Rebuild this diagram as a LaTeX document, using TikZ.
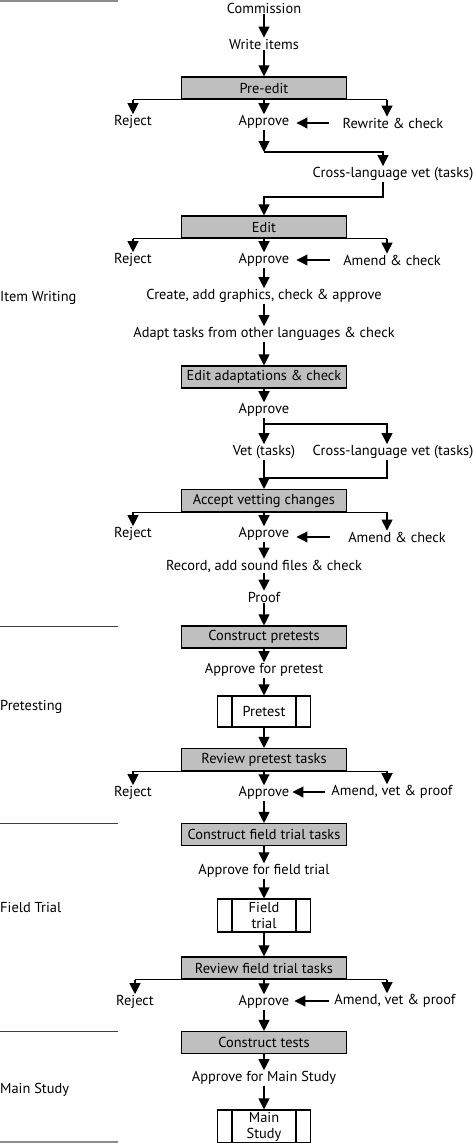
\documentclass[tikz,border=0pt]{standalone}
\usepackage{fontspec}
\setmainfont{PT Sans}
\usetikzlibrary{arrows.meta}
\begin{document}
\begin{tikzpicture}[x=1pt,y=-1pt, font=\fontsize{14.4}{16}\selectfont,
  lbl/.style={inner sep=1pt},
  gbox/.style={draw, line width=1.1pt, fill=black!25, minimum width=165pt, minimum height=22pt, inner sep=0pt},
  pbox/.style={draw, line width=1.1pt, fill=white, minimum width=93pt, minimum height=31pt, inner sep=0pt, align=center},
  arr/.style={line width=1.1pt, -{Triangle[width=11pt,length=11pt]}},
  ln/.style={line width=1.1pt},
  sec/.style={anchor=west, inner sep=0pt},
  secline/.style={black!75, line width=1pt},
  endline/.style={black!45, line width=2.2pt}
]
\useasboundingbox (0,0) rectangle (474,1143);
% section lines and labels
\draw[endline] (0,0.8) -- (118,0.8);
\draw[secline] (0,626) -- (118,626);
\draw[secline] (0,823) -- (118,823);
\draw[secline] (0,1031) -- (118,1031);
\draw[endline] (0,1142) -- (118,1142);
\node[sec] (s1) at (0,298) {Item Writing};
\node[sec] (s2) at (0,707) {Pretesting};
\node[sec] (s3) at (0,907) {Field Trial};
\node[sec] (s4) at (0,1090) {Main Study};
% columns
\coordinate (R) at (387,0);
\coordinate (Rc) at (383,0);
% nodes
\node[lbl] (comm) at (264,8) {Commission};
\node[lbl] (write) at (264,44) {Write items};
\node[gbox] (preedit) at (264,88) {Pre-edit};
\node[lbl] (rej1) at (133,122) {Reject};
\node[lbl] (app1) at (264,122) {Approve};
\node[lbl] (rew1) at (393,123) {Rewrite \& check};
\node[lbl] (clv1) at (393,174) {Cross-language vet (tasks)};
\node[gbox] (edit) at (264,227) {Edit};
\node[lbl] (rej2) at (133,260) {Reject};
\node[lbl] (app2) at (264,260) {Approve};
\node[lbl] (amd2) at (392,260) {Amend \& check};
\node[lbl] (create) at (264,296) {Create, add graphics, check \& approve};
\node[lbl] (adapt) at (264,334) {Adapt tasks from other languages \& check};
\node[gbox] (editad) at (264,377) {Edit adaptations \& check};
\node[lbl] (app3) at (264,410) {Approve};
\node[lbl] (vet) at (264,452) {Vet (tasks)};
\node[lbl] (clv2) at (393,452) {Cross-language vet (tasks)};
\node[gbox] (accept) at (264,500.5) {Accept vetting changes};
\node[lbl] (rej3) at (133,534) {Reject};
\node[lbl] (app4) at (264,534) {Approve};
\node[lbl] (amd3) at (397,537) {Amend \& check};
\node[lbl] (record) at (264,566) {Record, add sound files \& check};
\node[lbl] (proof) at (264,597) {Proof};
\node[gbox] (conpre) at (264,637) {Construct pretests};
\node[lbl] (appre) at (264,670) {Approve for pretest};
\node[pbox] (pretest) at (264,711.5) {Pretest};
\node[gbox] (revpre) at (264,759.5) {Review pretest tasks};
\node[lbl] (rej4) at (133,793) {Reject};
\node[lbl] (app5) at (264,793) {Approve};
\node[lbl] (amd4) at (392,792) {Amend, vet \& proof};
\node[gbox] (confield) at (264,834.5) {Construct field trial tasks};
\node[lbl] (appfield) at (264,871) {Approve for field trial};
\node[pbox, minimum height=33pt] (field) at (264,915.5) {Field\\trial};
\node[gbox] (revfield) at (264,968) {Review field trial tasks};
\node[lbl] (rej5) at (135,1002) {Reject};
\node[lbl] (app6) at (264,1002) {Approve};
\node[lbl] (amd5) at (395,1001) {Amend, vet \& proof};
\node[gbox] (contests) at (264,1042.5) {Construct tests};
\node[lbl] (appmain) at (264,1078) {Approve for Main Study};
\node[pbox, minimum height=33pt] (mainst) at (264,1126.5) {Main\\Study};
% inner lines of process boxes
\foreach \b in {pretest,field,mainst}{
  \draw[ln] ([xshift=-32pt]\b.north) -- ([xshift=-32pt]\b.south);
  \draw[ln] ([xshift=32pt]\b.north) -- ([xshift=32pt]\b.south);
}
% main chain
\draw[arr] (comm) -- (write);
\draw[arr] (write) -- (preedit);
% pre-edit branches
\draw[ln] (rej1.north |- preedit.south) -- (R |- preedit.south);
\draw[arr] (rej1.north |- preedit.south) -- (rej1.north);
\draw[arr] (preedit.south) -- (app1.north);
\draw[arr] (R |- preedit.south) -- (R |- rew1.north);
\draw[arr, shorten <=12pt, shorten >=6pt] (rew1.west) -- (rew1.west -| app1.east);
% to cross-language vet and back
\coordinate (j1) at (264,152);
\draw[arr] (app1) -- (j1);
\draw[arr] (j1) -- (j1 -| Rc) -- (Rc |- clv1.north);
\coordinate (j2) at (264,197);
\draw[arr] (Rc |- clv1.south) -- (Rc |- j2) -- (j2) -- (edit.north);
% edit branches
\draw[ln] (rej2.north |- edit.south) -- (R |- edit.south);
\draw[arr] (rej2.north |- edit.south) -- (rej2.north);
\draw[arr] (edit.south) -- (app2.north);
\draw[arr] (R |- edit.south) -- (R |- amd2.north);
\draw[arr, shorten <=12pt, shorten >=6pt] (amd2.west) -- (amd2.west -| app2.east);
\draw[arr] (app2) -- (create);
\draw[arr] (create) -- (adapt);
\draw[arr] (adapt) -- (editad);
\draw[arr] (editad) -- (app3);
% vetting
\draw[arr] (app3) -- (vet);
\coordinate (j3) at (264,424);
\draw[arr] (j3) -- (j3 -| R) -- (R |- clv2.north);
\coordinate (j4) at (264,478);
\draw[ln] (R |- clv2.south) -- (R |- j4) -- (j4);
\draw[arr] (vet) -- (accept);
% accept branches
\draw[ln] (rej3.north |- accept.south) -- (R |- accept.south);
\draw[arr] (rej3.north |- accept.south) -- (rej3.north);
\draw[arr] (accept.south) -- (app4.north);
\draw[arr] (R |- accept.south) -- (R |- amd3.north);
\draw[arr, shorten <=17pt, shorten >=6pt] (amd3.west) -- (amd3.west -| app4.east);
\draw[arr] (app4) -- (record);
\draw[arr] (record) -- (proof);
\draw[arr] (proof) -- (conpre);
\draw[arr] (conpre) -- (appre);
\draw[arr] (appre) -- (pretest);
\draw[arr] (pretest) -- (revpre);
% review pretest branches
\draw[ln] (rej4.north |- revpre.south) -- (R |- revpre.south);
\draw[arr] (rej4.north |- revpre.south) -- (rej4.north);
\draw[arr] (revpre.south) -- (app5.north);
\draw[arr] (R |- revpre.south) -- (R |- amd4.north);
\draw[arr, shorten <=5pt, shorten >=2pt] (amd4.west) -- (amd4.west -| app5.east);
\draw[arr] (app5) -- (confield);
\draw[arr] (confield) -- (appfield);
\draw[arr] (appfield) -- (field);
\draw[arr] (field) -- (revfield);
% review field trial branches
\draw[ln] (rej5.north |- revfield.south) -- (R |- revfield.south);
\draw[arr] (rej5.north |- revfield.south) -- (rej5.north);
\draw[arr] (revfield.south) -- (app6.north);
\draw[arr] (R |- revfield.south) -- (R |- amd5.north);
\draw[arr, shorten <=4pt, shorten >=4pt] (amd5.west) -- (amd5.west -| app6.east);
\draw[arr] (app6) -- (contests);
\draw[arr] (contests) -- (appmain);
\draw[arr] (appmain) -- (mainst);
\end{tikzpicture}
\end{document}
